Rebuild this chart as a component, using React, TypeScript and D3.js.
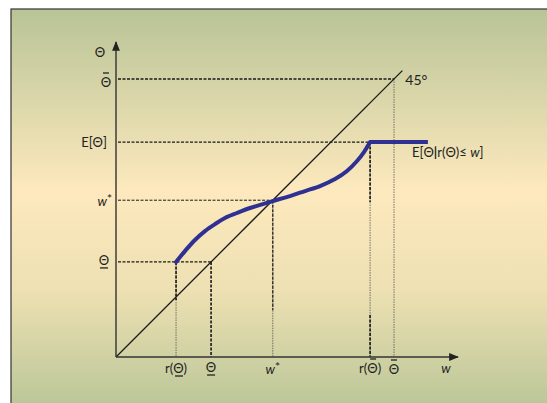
import React from 'react';
import * as d3 from 'd3';

// key values (same units on both axes)
const thetaBar = 100;
const expTheta = 77.3;
const wStar = 56.4;
const thetaLow = 34.2;
const rThetaBar = 91.4;
const rThetaLow = 21.6;
const axisMaxX = 123;
const axisMaxY = 113.3;
const diagEnd = 103;

// E[Θ | r(Θ) ≤ w]  (last point = end of the flat part)
const curveX = [21.6, 24.8, 28.4, 32.0, 35.6, 39.2, 43.5, 48.2, 52.5, 56.4, 62.6, 68.0, 73.4, 78.8, 83.1, 86.7, 89.2, 91.4, 112.2];
const curveY = [34.2, 38.1, 42.1, 45.3, 47.8, 50.0, 51.8, 53.6, 54.9, 56.1, 57.9, 59.7, 61.5, 64.0, 66.9, 70.5, 73.7, 77.3, 77.3];

const W = 547;
const H = 403;
const FONT = 'Lato, "DejaVu Sans", sans-serif';

const Theta = ({ x, y, mark, anchor = 'middle', size = 13 }: any) => (
  <g>
    <text x={x} y={y} textAnchor={anchor} dominantBaseline="central" fontSize={size} fontFamily={FONT} fill="#222">Θ</text>
    {mark === 'bar' && <line x1={x - 3} x2={x + 3} y1={y - 9} y2={y - 9} stroke="#222" strokeWidth={1.3} />}
    {mark === 'low' && <line x1={x - 4} x2={x + 4} y1={y + 8} y2={y + 8} stroke="#222" strokeWidth={1.3} />}
  </g>
);

const WStar = ({ x, y, anchor }: any) => (
  <text x={x} y={y} textAnchor={anchor} dominantBaseline="central" fontSize={13} fontFamily={FONT} fill="#222">
    <tspan fontStyle="italic">w</tspan><tspan fontSize={12} dy={-3}>*</tspan>
  </text>
);

export default function App() {
  const k = 2.78;
  const x = d3.scaleLinear().domain([0, 1]).range([116, 116 + k]);
  const y = d3.scaleLinear().domain([0, 1]).range([357, 357 - k]);

  const pts = curveX.map((v, i) => [v, curveY[i]] as [number, number]);
  const n = pts.length;
  const smooth = d3.line<[number, number]>().x(d => x(d[0])).y(d => y(d[1])).curve(d3.curveCatmullRom.alpha(0.5));
  const straight = d3.line<[number, number]>().x(d => x(d[0])).y(d => y(d[1]));

  const dash = { stroke: '#1a1a1a', strokeWidth: 1.3, strokeDasharray: '3,1.5' };
  const thin = { stroke: '#555', strokeWidth: 0.8, strokeDasharray: '1.5,1' };

  const xl = y(0) + 11;

  return (
    <svg width={W} height={H} style={{ position: 'absolute', left: 0, top: 0 }}>
      <defs>
        <linearGradient id="bg" x1="0" y1="0" x2="0" y2="1">
          <stop offset="0" stopColor="#b8c497" />
          <stop offset="0.45" stopColor="#fde9bd" />
          <stop offset="0.7" stopColor="#ede0b2" />
          <stop offset="1" stopColor="#b8c597" />
        </linearGradient>
        <marker id="arr" viewBox="0 0 10 10" refX="9" refY="5" markerWidth="7" markerHeight="7" orient="auto">
          <path d="M0,1 L10,5 L0,9 Z" fill="#222" />
        </marker>
      </defs>
      <rect x={0} y={0} width={W} height={H} fill="#fff" />
      <rect x={11} y={9} width={W} height={H} fill="url(#bg)" stroke="#333" strokeWidth={1.2} />

      {/* guide lines */}
      <line x1={x(0) + 2} x2={x(thetaBar)} y1={y(thetaBar)} y2={y(thetaBar)} {...dash} />
      <line x1={x(0) + 2} x2={x(rThetaBar)} y1={y(expTheta)} y2={y(expTheta)} {...dash} />
      <line x1={x(0) + 2} x2={x(wStar)} y1={y(wStar)} y2={y(wStar)} {...dash} strokeWidth={1} />
      <line x1={x(0) + 2} x2={x(thetaLow)} y1={y(thetaLow)} y2={y(thetaLow)} {...dash} />

      <line x1={x(thetaBar)} x2={x(thetaBar)} y1={y(thetaBar)} y2={y(0)} {...thin} />
      <line x1={x(rThetaBar)} x2={x(rThetaBar)} y1={y(expTheta)} y2={y(0)} {...thin} />
      <line x1={x(rThetaBar)} x2={x(rThetaBar)} y1={y(expTheta)} y2={y(expTheta) + 60} {...dash} strokeWidth={1.6} />
      <line x1={x(rThetaBar)} x2={x(rThetaBar)} y1={y(0) - 42} y2={y(0)} {...dash} strokeWidth={1.6} />
      <line x1={x(wStar)} x2={x(wStar)} y1={y(wStar)} y2={y(0)} {...thin} />
      <line x1={x(wStar)} x2={x(wStar)} y1={y(wStar)} y2={y(wStar) + 110} {...dash} strokeWidth={1.2} />
      <line x1={x(thetaLow)} x2={x(thetaLow)} y1={y(thetaLow)} y2={y(0)} {...dash} strokeWidth={1.6} />
      <line x1={x(rThetaLow)} x2={x(rThetaLow)} y1={y(thetaLow)} y2={y(0)} {...thin} />
      <line x1={x(rThetaLow)} x2={x(rThetaLow)} y1={y(thetaLow)} y2={y(thetaLow) + 38} {...dash} strokeWidth={1.6} />

      {/* 45 degree line */}
      <line x1={x(0)} y1={y(0)} x2={x(diagEnd)} y2={y(diagEnd)} stroke="#1a1a1a" strokeWidth={1.3} />

      {/* axes */}
      <line x1={x(0)} y1={y(0)} x2={x(0)} y2={y(axisMaxY)} stroke="#333" strokeWidth={1.4} markerEnd="url(#arr)" />
      <line x1={x(0)} y1={y(0)} x2={x(axisMaxX)} y2={y(0)} stroke="#333" strokeWidth={1.4} markerEnd="url(#arr)" />

      {/* curve: rising part, then flat */}
      <path d={smooth(pts.slice(0, n - 1)) || ''} fill="none" stroke="#2e3192" strokeWidth={4} strokeLinecap="round" />
      <path d={straight(pts.slice(n - 2)) || ''} fill="none" stroke="#2e3192" strokeWidth={4} />

      {/* y labels */}
      <Theta x={x(0) - 16} y={y(axisMaxY) + 10} />
      <Theta x={x(0) - 10} y={y(thetaBar) + 3} mark="bar" />
      <text x={x(0) - 9} y={y(expTheta)} textAnchor="end" dominantBaseline="central" fontSize={13} fontFamily={FONT} fill="#222">E[Θ]</text>
      <WStar x={x(0) - 4} y={y(wStar) + 1} anchor="end" />
      <Theta x={x(0) - 12} y={y(thetaLow) - 2} mark="low" />

      {/* x labels */}
      <text x={x(rThetaLow)} y={xl} textAnchor="middle" dominantBaseline="central" fontSize={13} fontFamily={FONT} fill="#222">r(Θ)</text>
      <line x1={x(rThetaLow) - 1} x2={x(rThetaLow) + 7} y1={xl + 8} y2={xl + 8} stroke="#222" strokeWidth={1.3} />
      <Theta x={x(thetaLow)} y={xl - 1} mark="low" />
      <WStar x={x(wStar)} y={xl + 1} anchor="middle" />
      <text x={x(rThetaBar)} y={xl} textAnchor="middle" dominantBaseline="central" fontSize={13} fontFamily={FONT} fill="#222">r(Θ)</text>
      <line x1={x(rThetaBar)} x2={x(rThetaBar) + 6} y1={xl - 9} y2={xl - 9} stroke="#222" strokeWidth={1.3} />
      <Theta x={x(thetaBar)} y={xl + 1} mark="bar" />
      <text x={x(axisMaxX) - 12} y={xl} textAnchor="middle" dominantBaseline="central" fontSize={13} fontFamily={FONT} fill="#222" fontStyle="italic">w</text>

      {/* annotations */}
      <text x={x(diagEnd) + 3} y={y(thetaBar)} dominantBaseline="central" fontSize={14} fontFamily={FONT} fill="#222">45°</text>
      <text x={x(curveX[n - 1]) - 16} y={y(expTheta) + 10} dominantBaseline="central" fontSize={13} fontFamily={FONT} fill="#222">
        E[Θ<tspan fontWeight="bold">|</tspan>r(Θ)≤ <tspan fontStyle="italic">w</tspan>]
      </text>
    </svg>
  );
}
